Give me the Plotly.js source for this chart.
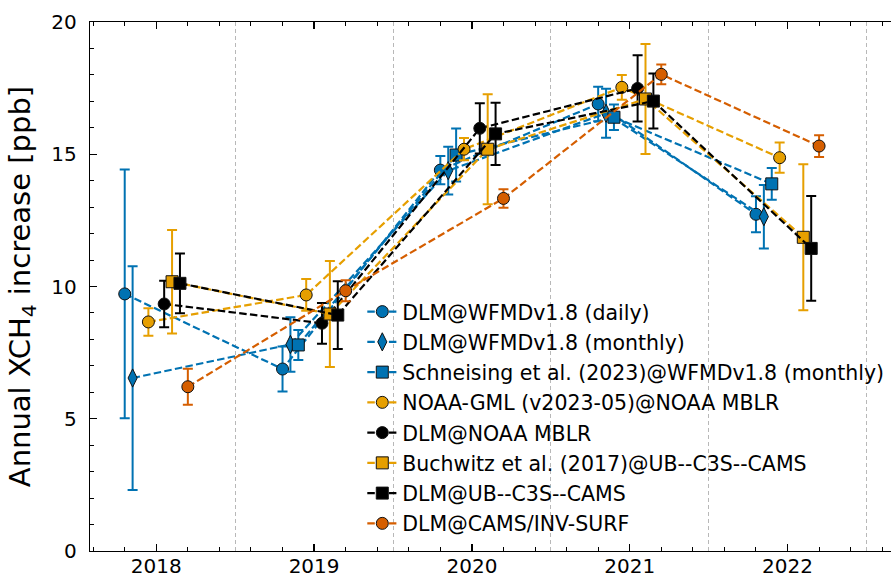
<!DOCTYPE html>
<html>
<head>
<meta charset="utf-8">
<script src="https://cdn.plot.ly/plotly-3.0.1.min.js"></script>
<style>
html, body { margin: 0; padding: 0; overflow: hidden; background: #fff; }
#chart { width: 900px; height: 577px; }
</style>
</head>
<body>
<div id="chart"></div>
<script>
// ---- data ----
const seriesNames = [
  "DLM@WFMDv1.8 (daily)",
  "DLM@WFMDv1.8 (monthly)",
  "Schneising et al. (2023)@WFMDv1.8 (monthly)",
  "NOAA-GML (v2023-05)@NOAA MBLR",
  "DLM@NOAA MBLR",
  "Buchwitz et al. (2017)@UB--C3S--CAMS",
  "DLM@UB--C3S--CAMS",
  "DLM@CAMS/INV-SURF"
];

const dailyX   = [2017.8, 2018.8, 2019.8, 2020.8, 2021.8];
const dailyY   = [9.72, 6.88, 14.40, 16.90, 12.73];
const dailyErr = [4.70, 0.85, 0.53, 0.65, 0.68];

const monthlyX   = [2017.85, 2018.85, 2019.85, 2020.85, 2021.85];
const monthlyY   = [6.54, 7.81, 14.38, 16.55, 12.64];
const monthlyErr = [4.23, 1.03, 0.90, 0.93, 1.20];

const schneisingX   = [2018.9, 2019.9, 2020.9, 2021.9];
const schneisingY   = [7.79, 14.97, 16.40, 13.88];
const schneisingErr = [0.57, 1.00, 0.48, 0.60];

const noaaGmlX   = [2017.95, 2018.95, 2019.95, 2020.95, 2021.95];
const noaaGmlY   = [8.66, 9.68, 15.19, 17.53, 14.87];
const noaaGmlErr = [0.52, 0.60, 0.42, 0.47, 0.57];

const dlmNoaaX   = [2018.05, 2019.05, 2020.05, 2021.05];
const dlmNoaaY   = [9.34, 8.61, 15.98, 17.49];
const dlmNoaaErr = [0.88, 0.77, 0.95, 1.25];

const buchwitzX   = [2018.1, 2019.1, 2020.1, 2021.1, 2022.1];
const buchwitzY   = [10.18, 8.96, 15.19, 17.09, 11.86];
const buchwitzErr = [1.96, 2.00, 2.08, 2.08, 2.76];

const dlmUbX   = [2018.15, 2019.15, 2020.15, 2021.15, 2022.15];
const dlmUbY   = [10.12, 8.92, 15.77, 17.01, 11.44];
const dlmUbErr = [1.13, 1.28, 1.18, 1.04, 1.98];

const camsX   = [2018.2, 2019.2, 2020.2, 2021.2, 2022.2];
const camsY   = [6.21, 9.84, 13.33, 18.02, 15.31];
const camsErr = [0.68, 0.40, 0.35, 0.37, 0.41];

const yearTicks = [2018, 2019, 2020, 2021, 2022];
const yearTickLabels = ["2018", "2019", "2020", "2021", "2022"];
const halfYearGrid = [2018.5, 2019.5, 2020.5, 2021.5, 2022.5];
const yTicks = [0, 5, 10, 15, 20];

// ---- styling ----
const BLUE = "#0072B2", ORANGE = "#E69F00", BLACK = "#000000", VERM = "#D55E00";

function mk(idx, x, y, err, color, symbol, size) {
  return {
    type: "scatter",
    mode: "lines+markers",
    name: seriesNames[idx],
    legendgroup: "g" + idx,
    x: x, y: y,
    error_y: { type: "data", array: err, visible: true, color: color, thickness: 2, width: 5 },
    line: { color: color, width: 2.2, dash: "7.5px,3.3px" },
    marker: { color: color, symbol: symbol, size: size, line: { color: "#111", width: 1 } },
    cliponaxis: true
  };
}

const traces = [
  mk(0, dailyX, dailyY, dailyErr, BLUE, "circle", 12),
  mk(1, monthlyX, monthlyY, monthlyErr, BLUE, "diamond-tall", 13),
  mk(2, schneisingX, schneisingY, schneisingErr, BLUE, "square", 12),
  mk(3, noaaGmlX, noaaGmlY, noaaGmlErr, ORANGE, "circle", 12),
  mk(4, dlmNoaaX, dlmNoaaY, dlmNoaaErr, BLACK, "circle", 12),
  mk(5, buchwitzX, buchwitzY, buchwitzErr, ORANGE, "square", 12),
  mk(6, dlmUbX, dlmUbY, dlmUbErr, BLACK, "square", 12),
  mk(7, camsX, camsY, camsErr, VERM, "circle", 12)
];

const FONT = "DejaVu Sans, sans-serif";

const layout = {
  width: 900, height: 577,
  margin: { l: 90, r: 2, t: 22, b: 26 },
  paper_bgcolor: "#fff", plot_bgcolor: "#fff",
  font: { family: FONT, color: "#000", size: 20 },
  showlegend: true,
  legend: {
    x: 0.337, y: 0.490, xanchor: "left", yanchor: "top",
    traceorder: "grouped", tracegroupgap: 0.6,
    bgcolor: "rgba(0,0,0,0)", borderwidth: 0,
    font: { family: FONT, size: 20.5, color: "#000" }
  },
  xaxis: {
    range: [2017.58, 2022.7],
    tickvals: yearTicks, ticktext: yearTickLabels,
    ticks: "inside", ticklen: 7, tickwidth: 1.2, tickcolor: "#000",
    minor: { dtick: 0.2, tick0: 2018, ticks: "inside", ticklen: 4, tickwidth: 1, tickcolor: "#000", showgrid: false },
    showline: true, linecolor: "#000", linewidth: 1.3, mirror: "ticks",
    showgrid: false, zeroline: false,
    tickfont: { family: FONT, size: 20, color: "#000" },
    ticklabelstandoff: -3
  },
  xaxis2: {
    overlaying: "x", matches: "x", side: "bottom",
    tickvals: halfYearGrid, showticklabels: false, ticks: "",
    showgrid: true, gridcolor: "#b8b8b8", gridwidth: 1, griddash: "4px,3px",
    showline: false, zeroline: false
  },
  yaxis: {
    range: [0, 20],
    tickvals: yTicks,
    ticks: "inside", ticklen: 7, tickwidth: 1.2, tickcolor: "#000",
    minor: { dtick: 1, ticks: "inside", ticklen: 4, tickwidth: 1, tickcolor: "#000", showgrid: false },
    showline: true, linecolor: "#000", linewidth: 1.3, mirror: "ticks",
    showgrid: false, zeroline: false,
    tickfont: { family: FONT, size: 20, color: "#000" },
    ticklabelstandoff: 8,
    title: { text: "Annual XCH<sub>4</sub> increase [ppb]", font: { family: FONT, size: 29, color: "#000" }, standoff: 12 }
  }
};

// invisible helper trace so the half-year grid axis is drawn
traces.unshift({ type: "scatter", x: [halfYearGrid[0]], y: [null], xaxis: "x2", yaxis: "y", showlegend: false, hoverinfo: "skip", mode: "markers", marker: { opacity: 0 } });

Plotly.newPlot("chart", traces, layout, { displayModeBar: false, staticPlot: true });
</script>
</body>
</html>
